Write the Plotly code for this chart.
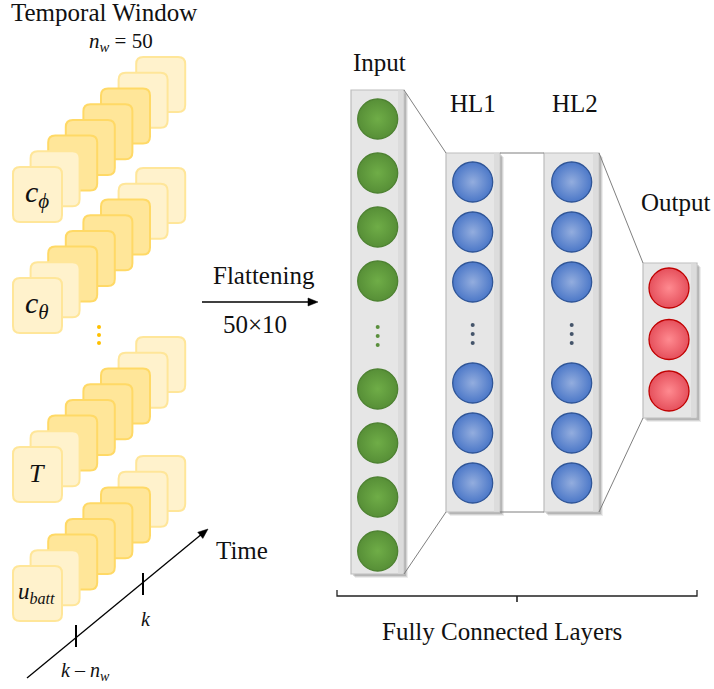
import math
import plotly.graph_objects as go

W, H = 714, 689

# ---------------- data ----------------
window_title = "Temporal Window"
window_size_label = "<i>n</i><sub><i>w</i></sub> = 50"
feature_labels = ["<i>c</i><sub><i>ϕ</i></sub>", "<i>c</i><sub><i>θ</i></sub>",
                  "<i>T</i>", "<i>u</i><sub><i>batt</i></sub>"]
feature_label_sizes = [30, 30, 26, 23]
card_shades = ["light", "light", "dark", "dark", "dark", "dark", "light", "light"]  # front -> back
layer_names = ["Input", "HL1", "HL2", "Output"]
nodes_above_gap = [4, 3, 3, 3]
nodes_below_gap = [4, 3, 3, 0]
layer_kinds = ["input", "hidden", "hidden", "output"]
flatten_label = "Flattening"
flatten_shape = "50×10"
time_label = "Time"
time_tick_labels = ["<i>k</i> – <i>n</i><sub><i>w</i></sub>", "<i>k</i>"]
group_label = "Fully Connected Layers"

# ---------------- layout constants ----------------
FONT = "Liberation Serif"
TXT = 25
stack_front_tops = [167, 278, 447, 566]
card_x0, card_w, card_h, card_dx, card_dy, card_r = 13, 49, 55, 17.6, 15.7, 7
shade_style = {"light": ("#FFF2CC", "#FFE699"), "dark": ("#FFE699", "#FFD966")}

boxes = [(351, 404, 90, 574), (446, 500, 153, 512), (544, 599, 153, 512), (643, 697, 263, 418)]
node_x = [377.7, 472.7, 571.7, 669]
node_top_y = [119, 182, 182, 288]
node_step = [54, 50, 50, 51.5]
node_bottom_y = [389, 383, 383, None]
dots_y = [[327, 336, 345], [325, 334, 343], [325, 334, 343], []]
label_pos = [(379, 62), (473, 103), (575, 103), (676, 202)]
# (edge colour, centre colour, outline colour)
node_style = {
    "input": ("#578F37", "#6FAD47", "#4E8232"),
    "hidden": ("#4C78C8", "#93ADDE", "#2F5597"),
    "output": ("#E5505C", "#FF8A90", "#C00000"),
}
dot_color = {"input": "#5A8F3C", "hidden": "#44546A", "output": "#44546A"}

shapes = []
annotations = []
traces = []


def rrect(x0, y0, x1, y1, r):
    return (f"M {x0+r},{y0} L {x1-r},{y0} Q {x1},{y0} {x1},{y0+r} "
            f"L {x1},{y1-r} Q {x1},{y1} {x1-r},{y1} L {x0+r},{y1} "
            f"Q {x0},{y1} {x0},{y1-r} L {x0},{y0+r} Q {x0},{y0} {x0+r},{y0} Z")


def label(x, y, text, size=TXT):
    annotations.append(dict(x=x, y=y, text=text, showarrow=False, xanchor="center", yanchor="middle",
                            font=dict(family=FONT, size=size, color="#111")))


def arrow(x0, y0, x1, y1, head=10, half=4, width=1.3):
    d = math.hypot(x1 - x0, y1 - y0)
    ux, uy = (x1 - x0) / d, (y1 - y0) / d
    bx, by = x1 - ux * head, y1 - uy * head
    shapes.append(dict(type="line", x0=x0, y0=y0, x1=bx + ux * 2, y1=by + uy * 2,
                       line=dict(color="#000", width=width)))
    px, py = -uy, ux
    shapes.append(dict(type="path",
                       path=f"M {x1},{y1} L {bx + px*half},{by + py*half} L {bx - px*half},{by - py*half} Z",
                       fillcolor="#000", line=dict(color="#000", width=0.5)))


# ---- card stacks ----
for s, top in enumerate(stack_front_tops):
    for i in reversed(range(len(card_shades))):
        fill, line = shade_style[card_shades[i]]
        x0 = card_x0 + i * card_dx
        y0 = top - i * card_dy
        shapes.append(dict(type="path", path=rrect(x0, y0, x0 + card_w, y0 + card_h, card_r),
                           fillcolor=fill, line=dict(color=line, width=2), layer="below"))
    label(card_x0 + card_w / 2 - 1, top + card_h / 2 - 1, feature_labels[s], feature_label_sizes[s])

# orange vertical dots between stacks
traces.append(go.Scatter(x=[99, 99, 99], y=[327, 335, 343], mode="markers",
                         marker=dict(size=4, color="#FFC000"), hoverinfo="skip"))

label(104, 12, window_title, 25)
label(121, 42, window_size_label, 21)

# ---- time axis ----
arrow(27, 678, 208, 529)
for tx, ty in [(76, 636), (143, 584)]:
    shapes.append(dict(type="line", x0=tx, x1=tx, y0=ty - 11, y1=ty + 11, line=dict(color="#000", width=2)))
label(242, 550, time_label)
label(85, 671, time_tick_labels[0], 20)
label(146, 619, time_tick_labels[1], 20)

# ---- flattening arrow ----
arrow(202, 302, 318, 302)
label(264, 275, flatten_label)
label(255, 324, flatten_shape)

# ---- connecting lines between layers ----
for a, b in zip(boxes[:-1], boxes[1:]):
    shapes.append(dict(type="line", x0=a[1], y0=a[2], x1=b[0], y1=b[2], line=dict(color="#7F7F7F", width=1)))
    shapes.append(dict(type="line", x0=a[1], y0=a[3], x1=b[0], y1=b[3], line=dict(color="#7F7F7F", width=1)))

# ---- layer boxes ----
for (x0, x1, y0, y1) in boxes:
    for k, op in [(4, 0.07), (3, 0.10), (2, 0.14)]:
        shapes.append(dict(type="rect", x0=x0 + k, x1=x1 + k, y0=y0 + k, y1=y1 + k,
                           fillcolor=f"rgba(0,0,0,{op})", line=dict(width=0), layer="below"))
    shapes.append(dict(type="rect", x0=x0, x1=x1, y0=y0, y1=y1, fillcolor="#E6E6E6",
                       line=dict(color="#BDBDBD", width=1.2), layer="below"))
    shapes.append(dict(type="rect", x0=x1 - 6, x1=x1 - 0.6, y0=y0 + 0.6, y1=y1 - 0.6, fillcolor="#DCDCDC",
                       line=dict(width=0), layer="below"))

# ---- nodes ----
for li, kind in enumerate(layer_kinds):
    c_edge, c_center, c_line = node_style[kind]
    ys = [node_top_y[li] + node_step[li] * i for i in range(nodes_above_gap[li])]
    if nodes_below_gap[li]:
        ys += [node_bottom_y[li] + node_step[li] * i for i in range(nodes_below_gap[li])]
    traces.append(go.Scatter(x=[node_x[li]] * len(ys), y=ys, mode="markers", hoverinfo="skip",
                             marker=dict(size=40, color=c_edge, gradient=dict(type="radial", color=c_center),
                                         line=dict(color=c_line, width=1.3))))
    if dots_y[li]:
        traces.append(go.Scatter(x=[node_x[li]] * len(dots_y[li]), y=dots_y[li], mode="markers",
                                 hoverinfo="skip", marker=dict(size=4, color=dot_color[kind])))
    label(label_pos[li][0], label_pos[li][1], layer_names[li])

# ---- brace ----
shapes.append(dict(type="path", path="M 337,590 L 337,596 L 697,596 L 697,590", line=dict(color="#222", width=1.3)))
shapes.append(dict(type="line", x0=517, x1=517, y0=596, y1=602, line=dict(color="#222", width=1.6)))
label(502, 631, group_label)

fig = go.Figure(traces)
fig.update_layout(
    width=W, height=H, margin=dict(l=0, r=0, t=0, b=0),
    paper_bgcolor="white", plot_bgcolor="white", showlegend=False,
    xaxis=dict(range=[0, W], visible=False, fixedrange=True),
    yaxis=dict(range=[H, 0], visible=False, fixedrange=True),
    shapes=shapes, annotations=annotations,
)
fig.write_html("out.html", config={"displayModeBar": False},
               post_script="document.body.style.margin='0';document.body.style.overflow='hidden';")
